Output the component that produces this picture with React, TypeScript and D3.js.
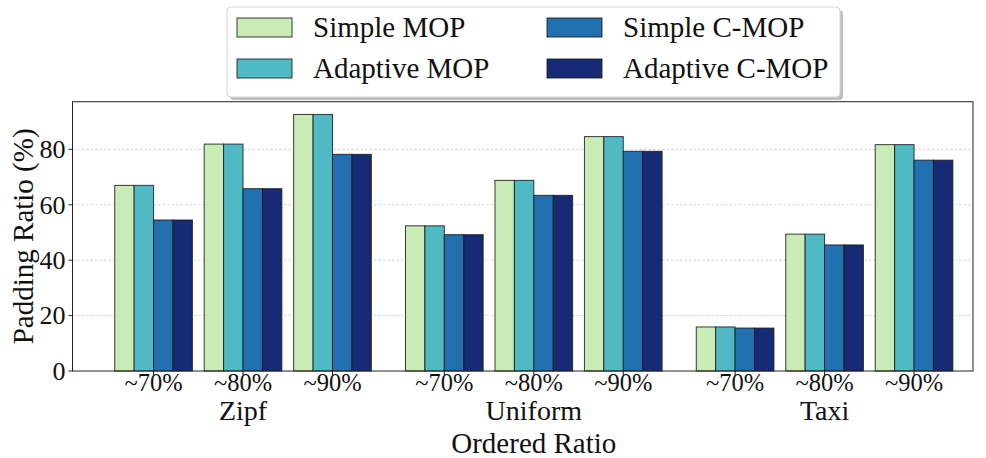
import React from "react";
import * as d3 from "d3";

const datasets = ["Zipf", "Uniform", "Taxi"];
const ratios = ["~70%", "~80%", "~90%"];
const seriesNames = ["Simple MOP", "Adaptive MOP", "Simple C-MOP", "Adaptive C-MOP"];
const seriesColors = ["#c9ebb5", "#4fbac3", "#2170b0", "#172a75"];

// values per series, ordered Zipf(70,80,90), Uniform(70,80,90), Taxi(70,80,90)
const simpleMOP = [67.0, 81.9, 92.6, 52.4, 68.8, 84.6, 15.9, 49.4, 81.7];
const adaptiveMOP = [67.0, 81.9, 92.6, 52.4, 68.8, 84.6, 15.9, 49.4, 81.7];
const simpleCMOP = [54.5, 65.8, 78.2, 49.2, 63.4, 79.3, 15.5, 45.5, 76.1];
const adaptiveCMOP = [54.5, 65.8, 78.2, 49.2, 63.4, 79.3, 15.5, 45.5, 76.1];
const seriesValues = [simpleMOP, adaptiveMOP, simpleCMOP, adaptiveCMOP];

const yTicks = [0, 20, 40, 60, 80];

const W = 986;
const H = 458;
const left = 72.5;
const right = 973;
const top = 101.7;
const bottom = 371;
const GAP = 0.25;
const BAR_W = 0.217;
const FONT = "'Liberation Serif', 'DejaVu Serif', serif";

export default function App() {
  const x = d3.scaleLinear().domain([-0.906, 9.159]).range([left, right]);
  const y = d3.scaleLinear().domain([0, 97.2]).range([bottom, top]);
  const unit = x(1) - x(0);

  const groups: { center: number; label: string; idx: number }[] = [];
  datasets.forEach((ds, di) => {
    ratios.forEach((r, ri) => {
      groups.push({ center: di * (3 + GAP) + ri, label: r, idx: di * 3 + ri });
    });
  });

  const legendRows = [
    { i: 0, col: 0, row: 0 },
    { i: 1, col: 0, row: 1 },
    { i: 2, col: 1, row: 0 },
    { i: 3, col: 1, row: 1 },
  ];
  const colX = [237, 547];
  const rowY = [18, 59];

  return (
    <svg
      width={W}
      height={H}
      style={{ position: "absolute", left: 0, top: 0, background: "#fff" }}
      fontFamily={FONT}
    >
      <rect x={0} y={0} width={W} height={H} fill="#fff" />
      {/* grid */}
      {yTicks.filter((t) => t > 0).map((t) => (
        <line
          key={"g" + t}
          x1={left}
          x2={right}
          y1={y(t)}
          y2={y(t)}
          stroke="#c8c8c8"
          strokeWidth={0.8}
          strokeDasharray="2.5,2"
        />
      ))}
      {/* bars */}
      {groups.map((g) =>
        seriesValues.map((vals, si) => {
          const x0 = x(g.center) + (si - 2) * BAR_W * unit;
          return (
            <rect
              key={g.idx + "-" + si}
              x={x0}
              y={y(vals[g.idx])}
              width={BAR_W * unit}
              height={y(0) - y(vals[g.idx])}
              fill={seriesColors[si]}
              stroke="#1a1a1a"
              strokeOpacity={0.85}
              strokeWidth={1}
            />
          );
        })
      )}
      {/* spines */}
      <rect x={left} y={top} width={right - left} height={bottom - top} fill="none" stroke="#222" strokeWidth={1} />
      {/* y ticks */}
      {yTicks.map((t) => (
        <g key={"yt" + t}>
          <line x1={left - 4} x2={left} y1={y(t)} y2={y(t)} stroke="#222" strokeWidth={1} />
          <text x={left - 7} y={y(t)} dy="0.34em" textAnchor="end" fontSize={26} fill="#111">
            {t}
          </text>
        </g>
      ))}
      {/* x ticks */}
      {groups.map((g) => (
        <g key={"xt" + g.idx}>
          <line x1={x(g.center)} x2={x(g.center)} y1={bottom} y2={bottom + 4} stroke="#222" strokeWidth={1} />
          <text x={x(g.center)} y={391} textAnchor="middle" fontSize={24.5} fill="#111">
            {g.label}
          </text>
        </g>
      ))}
      {datasets.map((ds, di) => (
        <text key={ds} x={x(di * (3 + GAP) + 1)} y={420} textAnchor="middle" fontSize={28} fill="#111">
          {ds}
        </text>
      ))}
      <text x={x(1 * (3 + GAP) + 1)} y={453} textAnchor="middle" fontSize={29} fill="#111">
        Ordered Ratio
      </text>
      <text
        transform={`translate(33, ${(top + bottom) / 2}) rotate(-90)`}
        textAnchor="middle"
        fontSize={29}
        fill="#111"
      >
        Padding Ratio (%)
      </text>
      {/* legend */}
      <rect x={230} y={10} width={613} height={90} rx={4} fill="#888" opacity={0.55} />
      <rect x={227} y={7} width={613} height={90} rx={4} fill="#fff" stroke="#d4d4d4" strokeWidth={1} />
      {legendRows.map((l) => (
        <g key={"lg" + l.i}>
          <rect
            x={colX[l.col]}
            y={rowY[l.row]}
            width={55}
            height={19}
            fill={seriesColors[l.i]}
            stroke="#1a1a1a"
            strokeOpacity={0.85}
            strokeWidth={1}
          />
          <text x={colX[l.col] + 76} y={rowY[l.row] + 19} fontSize={29} fill="#111">
            {seriesNames[l.i]}
          </text>
        </g>
      ))}
    </svg>
  );
}
